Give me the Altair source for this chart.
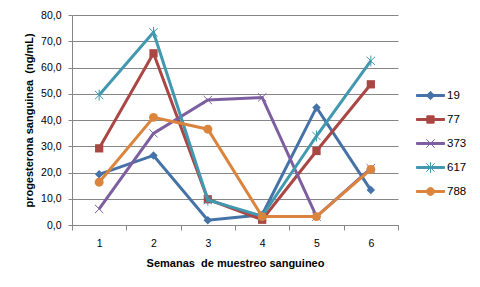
import altair as alt
import pandas as pd

weeks = [1, 2, 3, 4, 5, 6]
series = ["19", "77", "373", "617", "788"]
v19 = [19.3, 26.5, 1.8, 3.9, 44.8, 13.3]
v77 = [29.2, 65.4, 9.8, 2.0, 28.2, 53.6]
v373 = [6.1, 34.9, 47.6, 48.6, 3.2, 21.6]
v617 = [49.5, 73.4, 9.5, 3.4, 33.9, 62.5]
v788 = [16.3, 41.0, 36.5, 3.2, 3.2, 21.2]
y_ticks = [0, 10, 20, 30, 40, 50, 60, 70, 80]
colors = ["#4572A7", "#AA4643", "#7D5FA0", "#4198AF", "#DB843D"]

values = {"19": v19, "77": v77, "373": v373, "617": v617, "788": v788}
rows = []
for s in series:
    for w, v in zip(weeks, values[s]):
        rows.append({"serie": s, "semana": w, "valor": v})
df = pd.DataFrame(rows)

# plot markers: (shape, filled, size)
marker_specs = {
    "19": ("diamond", True, 72),
    "77": ("square", True, 68),
    "373": ("M-1,-1L1,1M1,-1L-1,1", False, 70),
    "617": ("M-1,-1L1,1M1,-1L-1,1M0,-1.3L0,1.3", False, 70),
    "788": ("circle", True, 80),
}
line = "M-1,-0.07H1V0.07H-1Z"
legend_paths = [
    line + "M0,-0.3L0.3,0L0,0.3L-0.3,0Z",
    line + "M-0.26,-0.26H0.26V0.26H-0.26Z",
    line + "M-0.3,-0.3L0.3,0.3M0.3,-0.3L-0.3,0.3",
    line + "M-0.3,-0.3L0.3,0.3M0.3,-0.3L-0.3,0.3M0,-0.38L0,0.38",
    line + "M-0.28,0A0.28,0.28 0 1,1 0.28,0A0.28,0.28 0 1,1 -0.28,0Z",
]

FONT = "Liberation Sans"
GRAY = "#868686"

x_enc = alt.X(
    "semana:O",
    bandPosition=0.5,
    scale=alt.Scale(type="band", paddingInner=0, paddingOuter=0),
    axis=alt.Axis(
        title="Semanas\u00a0 de muestreo sanguineo",
        labelAngle=0,
        tickBand="extent",
        tickSize=5,
        labelPadding=8,
        titlePadding=9,
        domainColor=GRAY,
        tickColor=GRAY,
        grid=False,
        labelFont=FONT,
        labelFontSize=10.5,
        labelColor="#000000",
        titleFont=FONT,
        titleFontSize=11,
        titleFontWeight="bold",
        titleColor="#000000",
    ),
)
y_enc = alt.Y(
    "valor:Q",
    scale=alt.Scale(domain=[0, 80], nice=False, zero=True),
    axis=alt.Axis(
        title="progesterona sanguinea\u00a0 (ng/mL)",
        values=y_ticks,
        labelExpr="replace(format(datum.value, '.1f'), '.', ',')",
        tickSize=4,
        labelPadding=7,
        titlePadding=6,
        domainColor=GRAY,
        tickColor=GRAY,
        gridColor=GRAY,
        gridWidth=1,
        gridOpacity=1,
        labelFont=FONT,
        labelFontSize=10.5,
        labelColor="#000000",
        titleFont=FONT,
        titleFontSize=11,
        titleFontWeight="bold",
        titleColor="#000000",
    ),
)

legend_def = alt.Legend(
    orient="none",
    legendX=344,
    legendY=66,
    title=None,
    symbolSize=784,
    symbolStrokeWidth=1,
    labelFont=FONT,
    labelFontSize=11.5,
    labelColor="#000000",
    labelOffset=2,
    gridAlign="all",
    rowPadding=2,
    padding=0,
)

color_scale = alt.Scale(domain=series, range=colors)
color_enc = alt.Color("serie:N", scale=color_scale, legend=legend_def)

legend_layer = (
    alt.Chart(df)
    .transform_filter("false")
    .mark_point(filled=True, opacity=1, strokeWidth=1)
    .encode(
        x=x_enc,
        y=y_enc,
        color=color_enc,
        shape=alt.Shape(
            "serie:N",
            scale=alt.Scale(domain=series, range=legend_paths),
            legend=legend_def,
        ),
    )
)

layers = [legend_layer]
for s in series:
    sub = alt.Chart(df).transform_filter(alt.datum.serie == s)
    layers.append(
        sub.mark_line(strokeWidth=3).encode(x=x_enc, y=y_enc, color=color_enc)
    )
    shp, filled, size = marker_specs[s]
    layers.append(
        sub.mark_point(shape=shp, filled=filled, opacity=1, size=size, strokeWidth=1).encode(
            x=x_enc, y=y_enc, color=color_enc
        )
    )

chart = (
    alt.layer(*layers)
    .properties(
        width=326,
        height=210,
        autosize=alt.AutoSizeParams(type="none"),
        padding={"left": 64, "top": 7, "right": 74, "bottom": 54},
        background="#ffffff",
    )
    .configure_view(stroke=None)
)

chart.save("out.html", embed_options={"renderer": "svg", "actions": False})
